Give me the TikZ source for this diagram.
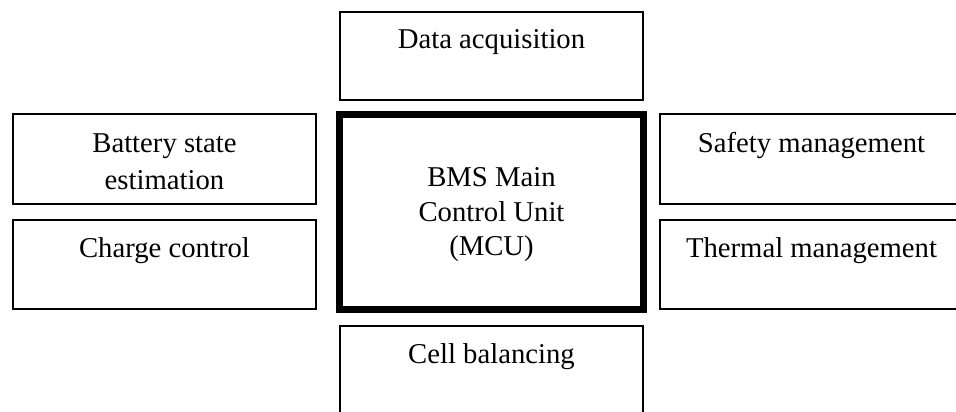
\documentclass[tikz,border=0pt]{standalone}
\usepackage{fontspec}
\setmainfont{Liberation Serif}
\begin{document}
\begin{tikzpicture}[x=1pt,y=-1pt,
  thinbox/.style={draw=black,line width=1.3pt},
  mcubox/.style={draw=black,line width=7pt},
  lbl/.style={anchor=base,inner sep=0pt,font=\fontsize{28.7}{34}\selectfont}]
\useasboundingbox (0,0) rectangle (956,412);
\clip (0,0) rectangle (956,412);
% boxes
\draw[thinbox] (340,12) rectangle (643,100);
\draw[thinbox] (13,114) rectangle (316,204);
\draw[thinbox] (13,220) rectangle (316,309);
\draw[thinbox] (660,114) rectangle (963,204);
\draw[thinbox] (660,220) rectangle (963,309);
\draw[thinbox] (340,326) rectangle (643,420);
\draw[mcubox] (339.5,114.5) rectangle (643.5,309.5);
% labels
\node[lbl] (da) at (491.5,49) {Data acquisition};
\node[lbl] (bse1) at (164.5,152) {Battery state};
\node[lbl] (bse2) at (164.5,189) {estimation};
\node[lbl] (cc) at (164.5,257) {Charge control};
\node[lbl] (sm) at (811.5,152) {Safety management};
\node[lbl] (tm) at (811.5,257) {Thermal management};
\node[lbl] (cb) at (491.5,363) {Cell balancing};
\node[lbl] (mcu1) at (491.5,186) {BMS Main};
\node[lbl] (mcu2) at (491.5,221) {Control Unit};
\node[lbl] (mcu3) at (491.5,255) {(MCU)};
\end{tikzpicture}
\end{document}
